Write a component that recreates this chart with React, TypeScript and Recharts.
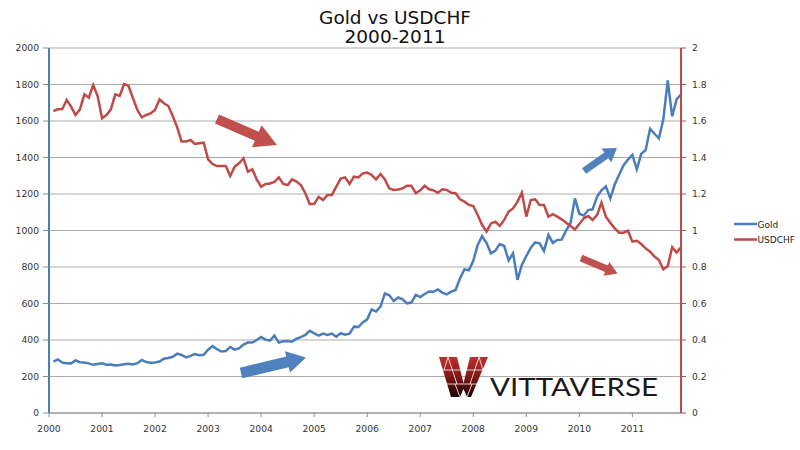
import React from "react";
import {
  LineChart,
  Line,
  XAxis,
  YAxis,
  CartesianGrid,
  Legend,
} from "recharts";

// month-end values, Jan 2000 .. Nov 2011
const gold = [
  282, 294, 277, 273, 272, 288, 278, 277, 272, 264, 269, 272,
  265, 266, 260, 263, 267, 270, 266, 273, 291, 279, 275, 277,
  282, 297, 301, 308, 325, 318, 305, 313, 323, 317, 319, 347,
  367, 350, 337, 340, 362, 347, 354, 375, 386, 386, 400, 416,
  402, 397, 424, 386, 393, 394, 391, 407, 416, 428, 450, 436,
  424, 435, 428, 435, 418, 437, 429, 435, 473, 471, 496, 513,
  568, 556, 583, 655, 645, 614, 633, 623, 601, 605, 647, 635,
  652, 666, 664, 677, 660, 650, 665, 674, 738, 787, 782, 834,
  921, 970, 931, 875, 890, 926, 915, 836, 875, 730, 812, 860,
  905, 935, 930, 888, 976, 932, 948, 950, 1000, 1040, 1176, 1092,
  1082, 1112, 1116, 1184, 1220, 1242, 1176, 1252, 1305, 1358, 1388, 1414,
  1335, 1420, 1441, 1558, 1530, 1505, 1610, 1822, 1625, 1718, 1745,
];

const usdchf = [
  1.655, 1.664, 1.666, 1.715, 1.679, 1.633, 1.664, 1.746, 1.728, 1.797, 1.737, 1.615,
  1.633, 1.664, 1.746, 1.737, 1.803, 1.792, 1.724, 1.66, 1.62, 1.633, 1.642, 1.66,
  1.719, 1.697, 1.682, 1.627, 1.565, 1.487, 1.487, 1.496, 1.474, 1.478, 1.481, 1.39,
  1.364, 1.353, 1.353, 1.353, 1.299, 1.35, 1.368, 1.395, 1.322, 1.335, 1.28, 1.24,
  1.255, 1.258, 1.266, 1.291, 1.255, 1.249, 1.28, 1.268, 1.249, 1.204, 1.145, 1.145,
  1.185, 1.167, 1.195, 1.195, 1.24, 1.284, 1.291, 1.255, 1.295, 1.291, 1.313, 1.317,
  1.304, 1.28, 1.31, 1.28, 1.23, 1.222, 1.225, 1.231, 1.245, 1.245, 1.204, 1.22,
  1.245, 1.226, 1.22, 1.207, 1.226, 1.222, 1.207, 1.204, 1.171, 1.158, 1.14, 1.134,
  1.085, 1.03, 0.994, 1.039, 1.048, 1.025, 1.058, 1.103, 1.121, 1.158, 1.207, 1.076,
  1.167, 1.171, 1.14, 1.14, 1.076, 1.09, 1.076, 1.061, 1.043, 1.025, 1.006, 1.036,
  1.067, 1.079, 1.058, 1.085, 1.153, 1.076, 1.043, 1.012, 0.988, 0.988, 0.999, 0.939,
  0.944, 0.926, 0.902, 0.884, 0.857, 0.838, 0.787, 0.805, 0.908, 0.879, 0.908,
];

const years = ["2000", "2001", "2002", "2003", "2004", "2005", "2006", "2007", "2008", "2009", "2010", "2011"];
const goldTicks = [0, 200, 400, 600, 800, 1000, 1200, 1400, 1600, 1800, 2000];
const chfTicks = [0, 0.2, 0.4, 0.6, 0.8, 1, 1.2, 1.4, 1.6, 1.8, 2];

const BLUE = "#4a7ebb";
const RED = "#be4b48";
const FONT = "'DejaVu Sans', Verdana, sans-serif";

// x = months since Jan 1 2000, each point sits at its month end
const data = gold.map((g, i) => ({ month: i + 1, gold: g, usdchf: usdchf[i] }));
const yearTicks = years.map((_, i) => i * 12);

function arrow(x1: number, y1: number, x2: number, y2: number, sw: number, hw: number, hl: number) {
  const len = Math.hypot(x2 - x1, y2 - y1);
  const ux = (x2 - x1) / len;
  const uy = (y2 - y1) / len;
  const nx = -uy;
  const ny = ux;
  const bx = x2 - ux * hl;
  const by = y2 - uy * hl;
  const p = [
    [x1 + (nx * sw) / 2, y1 + (ny * sw) / 2],
    [bx + (nx * sw) / 2, by + (ny * sw) / 2],
    [bx + (nx * hw) / 2, by + (ny * hw) / 2],
    [x2, y2],
    [bx - (nx * hw) / 2, by - (ny * hw) / 2],
    [bx - (nx * sw) / 2, by - (ny * sw) / 2],
    [x1 - (nx * sw) / 2, y1 - (ny * sw) / 2],
  ];
  return p.map((q) => q.join(",")).join(" ");
}

const LegendBox = () => (
  <svg width={70} height={34} style={{ display: "block" }}>
    <line x1={1} y1={9} x2={24} y2={9} stroke={BLUE} strokeWidth={2.5} />
    <text x={24.5} y={12.5} fontSize={9} fontFamily={FONT} fill="#222">Gold</text>
    <line x1={1} y1={24.5} x2={24} y2={24.5} stroke={RED} strokeWidth={2.5} />
    <text x={24.5} y={28} fontSize={9} fontFamily={FONT} fill="#222">USDCHF</text>
  </svg>
);

export default function App() {
  const tick = { fontSize: 9.2, fontFamily: FONT, fill: "#333" };
  return (
    <div style={{ position: "absolute", left: 0, top: 0, width: 800, height: 450, background: "#fff" }}>
      <LineChart width={800} height={450} data={data} margin={{ top: 48, right: 79, left: 0, bottom: 7 }}>
        <CartesianGrid yAxisId="left" vertical={false} stroke="#ababab" strokeWidth={1.2} />
        <XAxis
          dataKey="month"
          type="number"
          domain={[0, 143]}
          ticks={yearTicks}
          tickFormatter={(v: number) => years[Math.round(v / 12)]}
          height={30}
          tick={tick}
          tickSize={4}
          tickMargin={8}
          axisLine={{ stroke: "#8c8c8c" }}
          tickLine={{ stroke: "#8c8c8c" }}
        />
        <YAxis
          yAxisId="left"
          domain={[0, 2000]}
          ticks={goldTicks}
          width={49}
          tick={tick}
          tickSize={6}
          tickMargin={4}
          axisLine={{ stroke: BLUE, strokeWidth: 2 }}
          tickLine={{ stroke: "#8c8c8c" }}
        />
        <YAxis
          yAxisId="right"
          orientation="right"
          domain={[0, 2]}
          ticks={chfTicks}
          tickFormatter={(v: number) => String(+v.toFixed(1))}
          width={40}
          tick={tick}
          tickSize={5}
          tickMargin={6}
          axisLine={{ stroke: RED, strokeWidth: 2 }}
          tickLine={{ stroke: RED }}
        />
        <Legend
          layout="vertical"
          align="center"
          verticalAlign="middle"
          content={() => <LegendBox />}
          wrapperStyle={{ left: 733, top: 215, width: 70, height: 34 }}
        />
        <Line
          yAxisId="left"
          type="linear"
          dataKey="gold"
          name="Gold"
          stroke={BLUE}
          strokeWidth={2.5}
          dot={false}
          isAnimationActive={false}
        />
        <Line
          yAxisId="right"
          type="linear"
          dataKey="usdchf"
          name="USDCHF"
          stroke={RED}
          strokeWidth={2.5}
          dot={false}
          isAnimationActive={false}
        />
      </LineChart>
      <svg
        width={800}
        height={450}
        style={{ position: "absolute", left: 0, top: 0, pointerEvents: "none" }}
      >
        <text x={395} y={24} textAnchor="middle" fontSize={18.5} fontFamily={FONT} fill="#111">Gold vs USDCHF</text>
        <text x={395} y={43} textAnchor="middle" fontSize={18.5} fontFamily={FONT} fill="#111">2000-2011</text>
        <polygon points={arrow(217, 119, 277, 145, 10, 24, 22)} fill="#c0504d" />
        <polygon points={arrow(241, 373, 306, 357.5, 11, 22, 19)} fill="#4f81bd" />
        <polygon points={arrow(584, 171, 617, 148, 7, 17, 13)} fill="#4f81bd" />
        <polygon points={arrow(581, 258, 617.5, 273.5, 7, 15, 12)} fill="#c0504d" />
        <defs>
          <linearGradient id="vgrad" x1="0" y1="0" x2="0" y2="1">
            <stop offset="0%" stopColor="#c0302e" />
            <stop offset="55%" stopColor="#7a1414" />
            <stop offset="100%" stopColor="#140404" />
          </linearGradient>
        </defs>
        <polygon points="439,357 457,357 467,397 451,397" fill="url(#vgrad)" />
        <polygon points="470,357 488,357 471,397 460,397" fill="url(#vgrad)" />
        <g stroke="#fff" strokeWidth={0.8}>
          <line x1={436} y1={370} x2={490} y2={370} />
          <line x1={436} y1={384} x2={490} y2={384} />
          <line x1={448} y1={357} x2={444} y2={370} />
          <line x1={448} y1={357} x2={457} y2={384} />
          <line x1={479} y1={357} x2={483} y2={370} />
          <line x1={479} y1={357} x2={470} y2={384} />
          <line x1={455} y1={384} x2={460} y2={397} />
          <line x1={472} y1={384} x2={467} y2={397} />
        </g>
        <polygon points="460,397 463.5,389 467,397" fill="#fff" />
        <text x={490} y={396} fontSize={25} fontFamily="Lato, 'Open Sans', sans-serif" fill="#1a1a1a" textLength={168} lengthAdjust="spacingAndGlyphs">VITTAVERSE</text>
      </svg>
    </div>
  );
}
